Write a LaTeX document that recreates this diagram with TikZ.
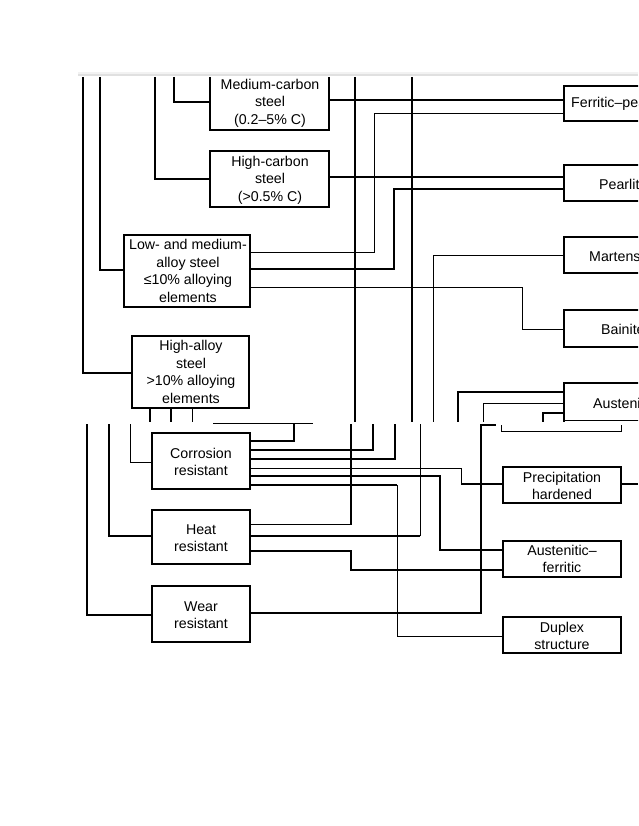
\documentclass[tikz,border=0pt]{standalone}
\usepackage{fontspec}
\setmainfont{Liberation Sans}
\begin{document}
\begin{tikzpicture}[x=1pt,y=-1pt,
  tk/.style={line width=1.8pt},
  tn/.style={line width=0.9pt},
  bx/.style={draw,line width=1.6pt},
  lb/.style={font=\fontsize{14.2}{17.5}\selectfont,align=center,inner sep=0pt}]
\path[use as bounding box,fill=white] (0,0) rectangle (638,826);
\clip (0,0) rectangle (638,826);
\fill[black!12] (78,74) rectangle (638,76);
\fill[black!5] (78,72) rectangle (638,74);
% upper boxes
\draw[bx] (210,77) -- (210,130) -- (329,130) -- (329,77);
\node[lb] (med) at (270,103) {Medium-carbon\\steel\\(0.2–5\% C)};
\draw[bx] (210,151) rectangle (329,207); \node[lb] (hc) at (270,180) {High-carbon\\steel\\(>0.5\% C)};
\draw[bx] (124,235) rectangle (250,307); \node[lb] (la) at (188,271) {Low- and medium-\\alloy steel\\≤10\% alloying\\elements};
\draw[bx] (132,336) rectangle (249,408); \node[lb] (ha) at (191,372) {High-alloy\\steel\\>10\% alloying\\elements};
% right boxes
\draw[bx] (660,86) -- (564,86) -- (564,121) -- (660,121);
\node[lb,anchor=west] (fp) at (571,104) {Ferritic–pearlitic};
\draw[bx] (660,165) -- (564,165) -- (564,201) -- (660,201);
\node[lb,anchor=west] (pe) at (599,184) {Pearlite};
\draw[bx] (660,237) -- (564,237) -- (564,273) -- (660,273);
\node[lb,anchor=west] (ma) at (589,256) {Martensite};
\draw[bx] (660,310) -- (564,310) -- (564,347) -- (660,347);
\node[lb,anchor=west] (ba) at (601,329) {Bainite};
\draw[bx] (660,383) -- (564,383) -- (564,422);
\draw[tn] (564,420) -- (660,420);
\node[lb,anchor=west] (au) at (593,403) {Austenite};
% upper lines
\draw[tk] (83,77) |- (132,373);
\draw[tk] (100,77) |- (124,270);
\draw[tk] (155,77) |- (210,179);
\draw[tk] (174,77) |- (210,102);
\draw[tk] (355,77) -- (355,422);
\draw[tk] (412,77) -- (412,422);
\draw[tk] (329,100) -- (564,100);
\draw[tn] (250,252) -| (374,113) -- (564,113);
\draw[tk] (329,177) -- (564,177);
\draw[tk] (250,269) -| (394,189) -- (564,189);
\draw[tn] (250,287) -| (522,329) -- (564,329);
\draw[tn] (564,255) -| (433,422);
\draw[tk] (564,392) -| (458,422);
\draw[tn] (564,403) -| (483,422);
\draw[tk] (564,413) -| (543,422);
\draw[tk] (150,408) -- (150,422);
\draw[tk] (171,408) -- (171,422);
\draw[tn] (192,408) -- (192,422);
% lower boxes
\draw[bx] (152,433) rectangle (250,489); \node[lb] (co) at (201,462) {Corrosion\\resistant};
\draw[bx] (152,510) rectangle (250,564); \node[lb] (he) at (201,538) {Heat\\resistant};
\draw[bx] (152,586) rectangle (250,642); \node[lb] (we) at (201,615) {Wear\\resistant};
\draw[bx] (503,467) rectangle (621,503); \node[lb] (pr) at (562,486) {Precipitation\\hardened};
\draw[bx] (503,541) rectangle (621,577); \node[lb] (af) at (562,559) {Austenitic–\\ferritic};
\draw[bx] (503,617) rectangle (621,653); \node[lb] (du) at (562,636) {Duplex\\structure};
% lower lines
\draw[tk] (87,424) |- (152,615);
\draw[tk] (109,424) |- (152,536);
\draw[tn] (130,424) |- (152,462);
\draw[tn] (213,423) -- (313,423);
\draw[tk] (250,441) -| (294,424);
\draw[tk] (250,450) -| (373,424);
\draw[tk] (250,459) -| (395,424);
\draw[tn] (250,468) -| (461,484); \draw[tk] (461,484) -- (503,484);
\draw[tk] (250,476) -| (440,550) -- (503,550);
\draw[tk] (250,485) -- (397,485); \draw[tn] (397,485) |- (503,636);
\draw[tn] (250,524) -| (351,424);
\draw[tk] (351,424) -- (351,524);
\draw[tk] (250,536) -- (420,536); \draw[tn] (420,536) -- (420,424);
\draw[tk] (250,551) -| (351,570) -- (503,570);
\draw[tk] (250,613) -| (481,425) -- (496,425);
\draw[tn] (501,425) |- (621,431) -- (621,425);
\draw[tk] (621,484) -- (638,484);
\end{tikzpicture}
\end{document}
